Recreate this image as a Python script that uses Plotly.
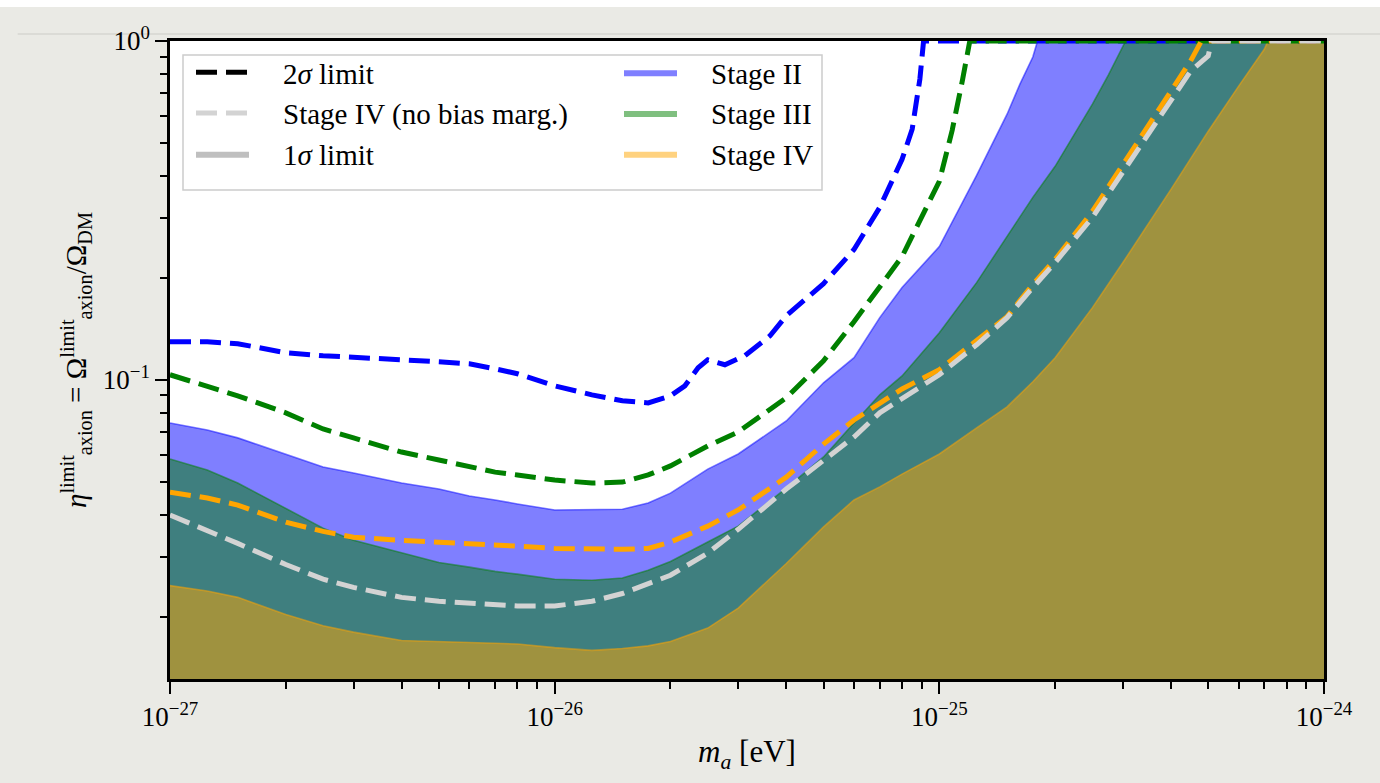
import plotly.graph_objects as go

# ---------------- data ----------------
# Stage II, 2 sigma limit (blue dashed)
m_s2_2sig = [1.0e-27, 1.25e-27, 1.5e-27, 2e-27, 2.5e-27, 3e-27, 4e-27, 5e-27, 6e-27, 7e-27, 8e-27,
             1e-26, 1.25e-26, 1.5e-26, 1.75e-26, 2e-26, 2.18e-26, 2.36e-26, 2.5e-26, 2.77e-26, 3.12e-26,
             3.63e-26, 4e-26, 5e-26, 6e-26, 7e-26, 8e-26, 8.5e-26, 8.9e-26, 9.1e-26, 1e-25, 1e-24]
eta_s2_2sig = [0.1295, 0.1295, 0.1278, 0.1202, 0.1178, 0.1162, 0.1146, 0.1131, 0.1115, 0.1078, 0.1042,
               0.0960, 0.0903, 0.0867, 0.0855, 0.0897, 0.0960, 0.1085, 0.1146, 0.1108, 0.1178,
               0.1349, 0.1546, 0.1923, 0.2424, 0.3228, 0.4475, 0.549, 0.772, 1.0, 1.0, 1.0]

# Stage III, 2 sigma limit (green dashed)
m_s3_2sig = [1.0e-27, 1.25e-27, 1.5e-27, 2e-27, 2.5e-27, 3e-27, 4e-27, 5e-27, 6e-27, 7e-27, 8e-27,
             1e-26, 1.25e-26, 1.5e-26, 1.75e-26, 2e-26, 2.5e-26, 3e-26, 4e-26, 5e-26, 6e-26, 7e-26,
             8e-26, 1e-25, 1.08e-25, 1.15e-25, 1.2e-25, 1e-24]
eta_s3_2sig = [0.1035, 0.0960, 0.0897, 0.0799, 0.0716, 0.0674, 0.0612, 0.0580, 0.0553, 0.0534, 0.0524,
               0.0506, 0.0496, 0.0499, 0.0524, 0.0557, 0.0638, 0.0702, 0.0885, 0.1138, 0.1484, 0.1872,
               0.2311, 0.3853, 0.5452, 0.772, 1.0, 1.0]

# Stage IV, 2 sigma limit (orange dashed)
m_s4_2sig = [1.0e-27, 1.25e-27, 1.5e-27, 2e-27, 2.5e-27, 3e-27, 4e-27, 5e-27, 6e-27, 7e-27, 8e-27,
             1e-26, 1.25e-26, 1.5e-26, 1.75e-26, 2e-26, 2.5e-26, 3e-26, 4e-26, 5e-26, 6e-26, 7e-26,
             8e-26, 1e-25, 1.25e-25, 1.5e-25, 1.75e-25, 2e-25, 2.5e-25, 3e-25, 4e-25, 4.5e-25,
             4.8e-25, 1e-24]
eta_s4_2sig = [0.0466, 0.0448, 0.0427, 0.0380, 0.0357, 0.0343, 0.0336, 0.0332, 0.0329, 0.0327, 0.0323,
               0.0318, 0.0316, 0.0316, 0.0318, 0.0332, 0.0370, 0.0413, 0.0516, 0.0646, 0.0761, 0.0855,
               0.0940, 0.1071, 0.1304, 0.1536, 0.1910, 0.2265, 0.3141, 0.4327, 0.7065, 0.873,
               1.0, 1.0]

# Stage IV without bias marginalisation, 2 sigma limit (light-grey dashed)
m_s4nb_2sig = [1.0e-27, 1.25e-27, 1.5e-27, 2e-27, 2.5e-27, 3e-27, 4e-27, 5e-27, 6e-27, 7e-27, 8e-27,
               1e-26, 1.25e-26, 1.5e-26, 1.75e-26, 2e-26, 2.5e-26, 3e-26, 4e-26, 5e-26, 6e-26, 7e-26,
               8e-26, 1e-25, 1.25e-25, 1.5e-25, 1.75e-25, 2e-25, 2.5e-25, 3e-25, 4e-25, 4.5e-25,
               5e-25, 5.1e-25, 1e-24]
eta_s4nb_2sig = [0.0399, 0.0360, 0.0329, 0.0285, 0.0258, 0.0244, 0.0228, 0.0222, 0.0219, 0.0216, 0.0215,
                 0.0215, 0.0222, 0.0234, 0.0249, 0.0265, 0.0308, 0.0362, 0.0476, 0.0580, 0.0678, 0.0799,
                 0.0879, 0.1035, 0.1269, 0.1526, 0.1872, 0.2219, 0.3015, 0.4124, 0.6737, 0.815,
                 0.903, 1.0, 1.0]

# Stage II, 1 sigma limit (blue band)
m_s2_1sig = [1.0e-27, 1.25e-27, 1.5e-27, 2e-27, 2.5e-27, 3e-27, 4e-27, 5e-27, 6e-27, 7e-27, 8e-27,
             1e-26, 1.25e-26, 1.5e-26, 1.75e-26, 2e-26, 2.5e-26, 3e-26, 4e-26, 5e-26, 6e-26, 7e-26,
             8e-26, 1e-25, 1.25e-25, 1.5e-25, 1.62e-25, 1.75e-25, 1.8e-25, 1e-24]
eta_s2_1sig = [0.0746, 0.0711, 0.0674, 0.0604, 0.0553, 0.0531, 0.0496, 0.0476, 0.0454, 0.0442, 0.0430,
               0.0413, 0.0413, 0.0415, 0.0433, 0.0463, 0.0545, 0.0604, 0.0756, 0.0980, 0.1162, 0.1526,
               0.1872, 0.2474, 0.4014, 0.608, 0.746, 0.897, 1.0, 1.0]

# Stage III, 1 sigma limit (green band)
m_s3_1sig = [1.0e-27, 1.25e-27, 1.5e-27, 2e-27, 2.5e-27, 3e-27, 4e-27, 5e-27, 6e-27, 7e-27, 8e-27,
             1e-26, 1.25e-26, 1.5e-26, 1.75e-26, 2e-26, 2.5e-26, 3e-26, 4e-26, 5e-26, 6e-26, 7e-26,
             8e-26, 1e-25, 1.25e-25, 1.5e-25, 1.75e-25, 2e-25, 2.5e-25, 2.75e-25, 3.05e-25, 1e-24]
eta_s3_1sig = [0.0584, 0.0542, 0.0496, 0.0418, 0.0365, 0.0336, 0.0308, 0.0289, 0.0280, 0.0272, 0.0267,
               0.0258, 0.0256, 0.0260, 0.0274, 0.0291, 0.0332, 0.0370, 0.0479, 0.0592, 0.0746, 0.0903,
               0.1027, 0.1377, 0.1936, 0.2649, 0.3455, 0.4268, 0.651, 0.793, 1.0, 1.0]

# Stage IV, 1 sigma limit (orange band)
m_s4_1sig = [1.0e-27, 1.25e-27, 1.5e-27, 2e-27, 2.5e-27, 3e-27, 4e-27, 5e-27, 6e-27, 7e-27, 8e-27,
             1e-26, 1.25e-26, 1.5e-26, 1.75e-26, 2e-26, 2.5e-26, 3e-26, 4e-26, 5e-26, 6e-26, 7e-26,
             8e-26, 1e-25, 1.25e-25, 1.5e-25, 1.75e-25, 2e-25, 2.5e-25, 3e-25, 4e-25, 5e-25, 6e-25,
             7e-25, 7.15e-25, 1e-24]
eta_s4_1sig = [0.0247, 0.0238, 0.0228, 0.0203, 0.0188, 0.0180, 0.0170, 0.0169, 0.0168, 0.0167, 0.0166,
               0.0162, 0.0159, 0.0161, 0.0164, 0.0169, 0.0185, 0.0212, 0.0287, 0.0368, 0.0442, 0.0483,
               0.0527, 0.0604, 0.0721, 0.0832, 0.0987, 0.1162, 0.1633, 0.2219, 0.3648, 0.5418, 0.736,
               0.947, 1.0, 1.0]

# axis ticks
x_tickvals = [1e-27, 1e-26, 1e-25, 1e-24]
x_ticktext = ["10<sup>\u221227</sup>", "10<sup>\u221226</sup>", "10<sup>\u221225</sup>", "10<sup>\u221224</sup>"]
y_tickvals = [1e-1, 1.0]
y_ticktext = ["10<sup>\u22121</sup>", "10<sup>0</sup>"]

Y_RANGE_LOG = [-1.883, 0.0]
FILL_FLOOR = 1e-3  # below the visible y range, so bands reach the bottom axis

FONT = "Liberation Serif"
BLUE, GREEN, ORANGE, LGRAY = "#0000ff", "#008000", "#ffa500", "#d3d3d3"
BLUE_A, GREEN_A, ORANGE_A, GRAY_A = ("rgba(0,0,255,0.5)", "rgba(0,128,0,0.5)",
                                     "rgba(255,165,0,0.5)", "rgba(128,128,128,0.5)")
DASH = "21px,9px"
LW = 5
GAP = "\u2003"  # spacing between legend symbol and label (as in the reference)

fig = go.Figure()


def band(m, eta, fillcol, name, rank):
    xs = list(m) + list(m)[::-1]
    ys = list(eta) + [FILL_FLOOR] * len(m)
    fig.add_trace(go.Scatter(x=xs, y=ys, mode="lines", fill="toself", fillcolor=fillcol,
                             line=dict(width=0, color=fillcol), name=GAP + name,
                             legend="legend2", legendrank=rank, hoverinfo="skip"))


band(m_s2_1sig, eta_s2_1sig, BLUE_A, "Stage II", 1)
band(m_s3_1sig, eta_s3_1sig, GREEN_A, "Stage III", 2)
band(m_s4_1sig, eta_s4_1sig, ORANGE_A, "Stage IV", 3)

# band edges
for m, eta, col in [(m_s2_1sig, eta_s2_1sig, BLUE_A), (m_s3_1sig, eta_s3_1sig, GREEN_A),
                    (m_s4_1sig, eta_s4_1sig, ORANGE_A)]:
    fig.add_trace(go.Scatter(x=m, y=eta, mode="lines", line=dict(color=col, width=1.6),
                             showlegend=False, hoverinfo="skip"))

# 2 sigma dashed limits
for m, eta, col in [(m_s2_2sig, eta_s2_2sig, BLUE), (m_s3_2sig, eta_s3_2sig, GREEN),
                    (m_s4_2sig, eta_s4_2sig, ORANGE)]:
    fig.add_trace(go.Scatter(x=m, y=eta, mode="lines", line=dict(color=col, width=LW, dash=DASH),
                             showlegend=False))

fig.add_trace(go.Scatter(x=m_s4nb_2sig, y=eta_s4nb_2sig, mode="lines",
                         line=dict(color=LGRAY, width=LW, dash=DASH),
                         name=GAP + "Stage IV (no bias marg.)", legend="legend", legendrank=2))

# legend-only entries
fig.add_trace(go.Scatter(x=[None], y=[None], mode="lines",
                         line=dict(color="black", width=LW, dash=DASH),
                         name=GAP + "2<i>\u03c3</i> limit", legend="legend", legendrank=1))
fig.add_trace(go.Scatter(x=[None], y=[None], mode="lines", fill="toself", fillcolor=GRAY_A,
                         line=dict(color=GRAY_A, width=0),
                         name=GAP + "1<i>\u03c3</i> limit", legend="legend", legendrank=3))

x_minor = [d * 10.0 ** e for e in (-27, -26, -25) for d in range(2, 10)]
y_minor = [d * 10.0 ** e for e in (-2, -1) for d in range(2, 10)]

axis_common = dict(type="log", showline=True, linecolor="black", linewidth=2.5, mirror=True,
                   ticks="outside", ticklen=12, tickwidth=2, tickcolor="black", showgrid=False,
                   zeroline=False, tickfont=dict(family=FONT, size=27, color="black"))

fig.update_xaxes(**axis_common, range=[-27, -24], tickmode="array", tickvals=x_tickvals,
                 ticktext=x_ticktext,
                 minor=dict(tickmode="array", tickvals=x_minor, ticks="outside", ticklen=7,
                            tickwidth=1.8, tickcolor="black", showgrid=False),
                 title=dict(text="<i>m<sub>a</sub></i> [eV]", font=dict(family=FONT, size=31, color="black"),
                            standoff=10))
fig.update_yaxes(**axis_common, range=Y_RANGE_LOG, tickmode="array", tickvals=y_tickvals,
                 ticktext=y_ticktext,
                 minor=dict(tickmode="array", tickvals=y_minor, ticks="outside", ticklen=7,
                            tickwidth=1.8, tickcolor="black", showgrid=False),
                 title=dict(text="<i>\u03b7</i><sup>limit</sup><sub>axion</sub> = "
                                 "\u03a9<sup>limit</sup><sub>axion</sub>/\u03a9<sub>DM</sub>",
                            font=dict(family=FONT, size=29, color="black"), standoff=8))

legend_common = dict(orientation="v", traceorder="normal", xanchor="left", yanchor="top",
                     bgcolor="rgba(0,0,0,0)", borderwidth=0, itemwidth=53, tracegroupgap=0,
                     font=dict(family=FONT, size=29, color="black"))

fig.update_layout(
    width=1380, height=783,
    margin=dict(l=170, r=56, t=41, b=104, autoexpand=False),
    paper_bgcolor="#eaeae5", plot_bgcolor="white",
    font=dict(family=FONT, color="black"),
    showlegend=True,
    legend=dict(**legend_common, x=(191 - 170) / 1154, y=(679 - 47) / 638),
    legend2=dict(**legend_common, x=(619 - 170) / 1154, y=(679 - 47) / 638),
    shapes=[
        dict(type="rect", xref="paper", yref="paper", x0=-0.2, x1=1.1, y0=1.0533, y1=1.1,
             fillcolor="white", line=dict(width=0), layer="below"),
        dict(type="line", xref="paper", yref="paper", x0=-0.132, x1=1.1, y0=1.011, y1=1.011,
             line=dict(color="#d6d6d1", width=1.5), layer="below"),
        # legend frame (shared by both legend columns)
        dict(type="rect", xref="paper", yref="paper",
             x0=(183 - 170) / 1154, x1=(822 - 170) / 1154, y0=(679 - 190) / 638, y1=(679 - 55) / 638,
             fillcolor="rgba(255,255,255,0.85)", line=dict(color="#cccccc", width=1.5), layer="above"),
    ],
)

fig.write_html("out.html")
